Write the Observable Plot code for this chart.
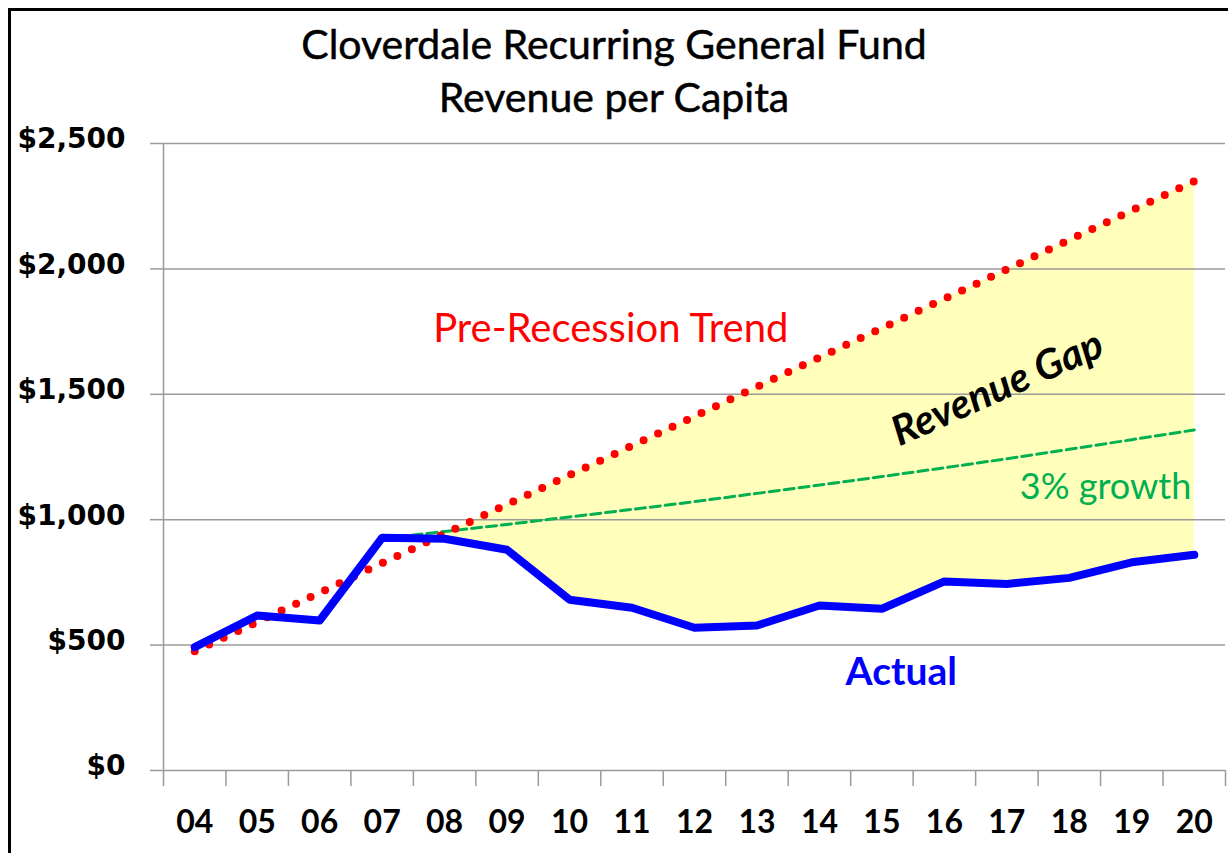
<!DOCTYPE html>
<html><head><meta charset="utf-8">
<script src="https://cdn.jsdelivr.net/npm/d3@7"></script>
<script src="https://cdn.jsdelivr.net/npm/@observablehq/plot@0.6"></script>
<style>
html,body{margin:0;padding:0;background:#fff;overflow:hidden;width:1228px;height:853px}
#title{position:absolute;left:0;top:0;width:1228px;text-align:center;font-family:Lato,"Open Sans",sans-serif;font-size:41px;line-height:53px;padding-top:17px;color:#000;-webkit-text-stroke:0.5px #000}
#chart{position:absolute;left:0;top:122px}
#frame{position:absolute;left:8px;top:8px;width:1300px;height:900px;border:3px solid #000;box-sizing:border-box;pointer-events:none}
</style></head>
<body>
<div id="title">Cloverdale Recurring General Fund<br>Revenue per Capita</div>
<div id="chart"></div>
<div id="frame"></div>
<script>
const years = ["04","05","06","07","08","09","10","11","12","13","14","15","16","17","18","19","20"];
const actual = [492,618,598,928,924,880,681,649,569,578,658,645,754,744,768,830,860];
const trend = [475,592,709,827,944,1061,1178,1295,1412,1530,1647,1764,1881,1998,2116,2233,2350];
const growthYears = ["07","08","09","10","11","12","13","14","15","16","17","18","19","20"];
const growth = [925,953,981,1011,1041,1072,1105,1138,1172,1207,1243,1281,1319,1358];
const gapStart = "08";
const yTicks = [0,500,1000,1500,2000,2500];
const labels = [
  {text:"Pre-Recession Trend", year:10.66, value:1758, color:"#ff0000", weight:"normal", style:"normal", size:40, rotate:0},
  {text:"Revenue Gap", year:16.85, value:1523, color:"#000000", weight:"bold", style:"italic", size:41, rotate:-24},
  {text:"3% growth", year:18.58, value:1128, color:"#00b050", weight:"normal", style:"normal", size:36, rotate:0},
  {text:"Actual", year:15.31, value:391, color:"#0000ff", weight:"bold", style:"normal", size:39, rotate:0}
];

const series = years.map((y,i)=>({x:+y, year:y, actual:actual[i], trend:trend[i]}));
const gap = series.filter(d => d.x >= +gapStart);
const growthData = growthYears.map((y,i)=>({x:+y, value:growth[i]}));
const bounds = d3.range(years.length+1).map(i => +years[0] - 0.5 + i);
const fmt = d => "$" + d3.format(",")(d);

const chart = Plot.plot({
  width: 1228, height: 731,
  marginTop: 21, marginBottom: 83, marginLeft: 163, marginRight: 3,
  style: {background:"transparent", overflow:"visible"},
  x: {domain:[+years[0]-0.5, +years[years.length-1]+0.5], axis:null},
  y: {domain:[0,2500], axis:null},
  marks: [
    Plot.areaY(gap, {x:"x", y1:"actual", y2:"trend", fill:"#ffffbb", curve:"linear"}),
    Plot.gridY(yTicks, {stroke:"#9a9a9a", strokeOpacity:1, strokeWidth:1.5}),
    Plot.ruleX([bounds[0]], {y1:0, y2:2500, stroke:"#9a9a9a", strokeWidth:1.5}),
    Plot.axisY(yTicks, {anchor:"left", tickSize:13, stroke:"#9a9a9a", strokeWidth:1.5, fill:"none"}),
    Plot.axisY(yTicks, {anchor:"left", tickSize:0, tickPadding:38, tickFormat:fmt, stroke:"none", fill:"#000", fontSize:28, fontWeight:"bold", fontFamily:"DejaVu Sans", dy:-4}),
    Plot.axisX(bounds, {anchor:"bottom", tickSize:16, stroke:"#9a9a9a", strokeWidth:1.5, fill:"none"}),
    Plot.axisX(years.map(Number), {anchor:"bottom", tickSize:0, tickPadding:40, tickFormat:d => years.find(y => +y === d), stroke:"none", fill:"#000", fontSize:32, fontWeight:"bold", fontFamily:"Lato"}),
    Plot.line(growthData, {x:"x", y:"value", stroke:"#00b050", strokeWidth:3, strokeDasharray:"10 5"}),
    Plot.line(series, {x:"x", y:"trend", stroke:"#ff0000", strokeWidth:8, strokeDasharray:"0 16", strokeLinecap:"round"}),
    Plot.line(series, {x:"x", y:"actual", stroke:"#0000ff", strokeWidth:8, strokeLinejoin:"round", strokeLinecap:"round"}),
    ...labels.map(l => Plot.text([l], {x:"year", y:"value", text:"text", fill:l.color, fontSize:l.size, fontWeight:l.weight, fontStyle:l.style, rotate:l.rotate, fontFamily:"Lato", textAnchor:"middle"}))
  ]
});
document.getElementById("chart").appendChild(chart);
</script>
</body></html>
